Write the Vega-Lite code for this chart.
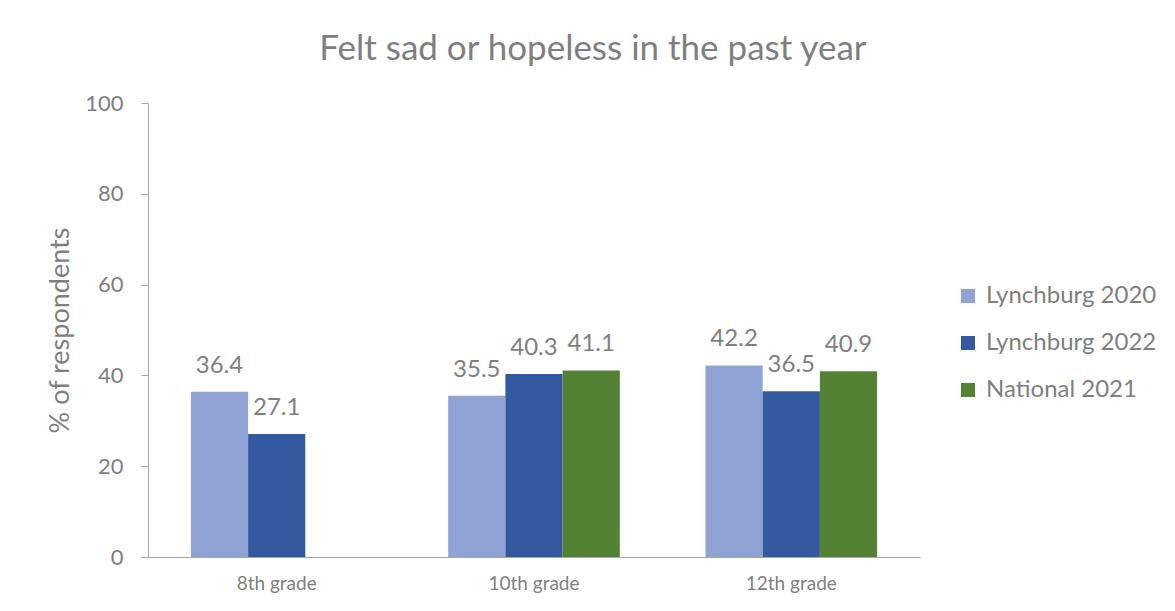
{
  "$schema": "https://vega.github.io/schema/vega-lite/v6.json",
  "width": 772,
  "height": 454,
  "autosize": "none",
  "padding": {"left": 148, "top": 103, "right": 255, "bottom": 54},
  "background": "white",
  "config": {
    "view": {"stroke": null},
    "font": "Lato",
    "axis": {"grid": false, "labelColor": "#7F7F7F", "titleColor": "#7F7F7F", "domainColor": "#A6A6A6", "tickColor": "#A6A6A6", "labelFont": "Lato", "titleFont": "Lato"},
    "legend": {"labelFont": "Lato"}
  },
  "title": {
    "text": "Felt sad or hopeless in the past year",
    "fontSize": 35,
    "fontWeight": "normal",
    "color": "#7F7F7F",
    "anchor": "middle",
    "frame": "bounds",
    "offset": 25,
    "dx": -9,
    "font": "Lato"
  },
  "data": {
    "values": [
      {"grade": "8th grade", "series": "Lynchburg 2020", "value": 36.4},
      {"grade": "8th grade", "series": "Lynchburg 2022", "value": 27.1},
      {"grade": "10th grade", "series": "Lynchburg 2020", "value": 35.5},
      {"grade": "10th grade", "series": "Lynchburg 2022", "value": 40.3},
      {"grade": "10th grade", "series": "National 2021", "value": 41.1},
      {"grade": "12th grade", "series": "Lynchburg 2020", "value": 42.2},
      {"grade": "12th grade", "series": "Lynchburg 2022", "value": 36.5},
      {"grade": "12th grade", "series": "National 2021", "value": 40.9}
    ]
  },
  "encoding": {
    "x": {
      "field": "grade",
      "type": "nominal",
      "sort": ["8th grade", "10th grade", "12th grade"],
      "scale": {"paddingInner": 0.333, "paddingOuter": 0.1667},
      "axis": {"title": null, "labelAngle": 0, "ticks": false, "labelFontSize": 19, "labelPadding": 17, "domainColor": "#A6A6A6"}
    },
    "xOffset": {
      "field": "series",
      "type": "nominal",
      "scale": {"domain": ["Lynchburg 2020", "Lynchburg 2022", "National 2021"], "paddingInner": 0, "paddingOuter": 0}
    },
    "y": {
      "field": "value",
      "type": "quantitative",
      "scale": {"domain": [0, 100]},
      "axis": {"title": "% of respondents", "titleFontSize": 27, "titleFontWeight": "normal", "titlePadding": 10, "labelFontSize": 22, "values": [0, 20, 40, 60, 80, 100], "labelOverlap": false, "labelBound": false, "labelFlush": false, "tickSize": 7, "labelPadding": 18}
    }
  },
  "layer": [
    {
      "mark": {"type": "bar"},
      "encoding": {
        "color": {
          "field": "series",
          "type": "nominal",
          "scale": {"domain": ["Lynchburg 2020", "Lynchburg 2022", "National 2021"], "range": ["#8FA4D4", "#335AA0", "#548235"]},
          "legend": {
            "title": null,
            "orient": "none",
            "legendX": 808,
            "legendY": 181,
            "symbolType": "square",
            "symbolSize": 196,
            "symbolStrokeWidth": 0,
            "labelFontSize": 24,
            "labelColor": "#7F7F7F",
            "labelLimit": 400,
            "rowPadding": 23,
            "labelOffset": 6
          }
        }
      }
    },
    {
      "mark": {"type": "text", "baseline": "alphabetic", "dy": -19, "fontSize": 24, "color": "#7F7F7F"},
      "encoding": {
        "text": {"field": "value", "type": "quantitative", "format": ".1f"}
      }
    }
  ]
}
